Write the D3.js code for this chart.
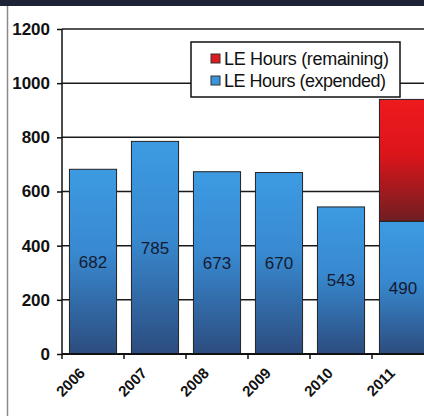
<!DOCTYPE html>
<html>
<head>
<meta charset="utf-8">
<script src="https://cdn.jsdelivr.net/npm/d3@7"></script>
<style>
  html, body { margin: 0; padding: 0; background: #fff; }
  svg { display: block; overflow: hidden; }
</style>
</head>
<body>
<div id="chart"></div>
<script>
// chart values
const years = ['2006', '2007', '2008', '2009', '2010', '2011'];
const expended = [682, 785, 673, 670, 543, 490];
const remaining = [0, 0, 0, 0, 0, 450];
const yTicks = [0, 200, 400, 600, 800, 1000, 1200];
const legendLabels = ['LE Hours (remaining)', 'LE Hours (expended)'];

const width = 424, height = 420;
const margin = {top: 29, left: 62, bottom: 66};
const narrow = 'Liberation Sans Narrow, Liberation Sans, Arial, sans-serif';

const svg = d3.select('#chart').append('svg')
    .attr('width', width)
    .attr('height', height);

const defs = svg.append('defs');

const blueGrad = defs.append('linearGradient')
    .attr('id', 'blue-grad')
    .attr('x1', 0).attr('y1', 0).attr('x2', 0).attr('y2', 1);
blueGrad.append('stop').attr('offset', '0%').attr('stop-color', '#3d9be2');
blueGrad.append('stop').attr('offset', '45%').attr('stop-color', '#3889d0');
blueGrad.append('stop').attr('offset', '100%').attr('stop-color', '#2c4c7e');

const redGrad = defs.append('linearGradient')
    .attr('id', 'red-grad')
    .attr('x1', 0).attr('y1', 0).attr('x2', 0).attr('y2', 1);
redGrad.append('stop').attr('offset', '0%').attr('stop-color', '#ee1a1e');
redGrad.append('stop').attr('offset', '45%').attr('stop-color', '#dc151b');
redGrad.append('stop').attr('offset', '100%').attr('stop-color', '#6e1e22');

// frame bits from the scanned slide
svg.append('rect')
    .attr('x', 0).attr('y', 0)
    .attr('width', width).attr('height', 6)
    .attr('fill', '#1d2236');

svg.append('line')
    .attr('x1', 7.5).attr('x2', 7.5)
    .attr('y1', 6).attr('y2', 416)
    .attr('stroke', '#8a8a8a')
    .attr('stroke-width', 1.5);

const x = d3.scaleBand()
    .domain(years)
    .range([margin.left, margin.left + 62 * years.length])
    .paddingInner(0.24)
    .paddingOuter(0.12);

const y = d3.scaleLinear()
    .domain([0, 1200])
    .range([354, margin.top]);

// gridlines
svg.append('g')
  .selectAll('line')
    .data(yTicks.filter(d => d > 0))
  .enter().append('line')
    .attr('x1', margin.left)
    .attr('x2', width)
    .attr('y1', d => y(d))
    .attr('y2', d => y(d))
    .attr('stroke', '#1a1a1a')
    .attr('stroke-width', 1.5);

// bars
const bars = svg.append('g');

bars.selectAll('rect.expended')
    .data(years)
  .enter().append('rect')
    .attr('class', 'expended')
    .attr('x', d => x(d))
    .attr('width', x.bandwidth())
    .attr('y', (d, i) => y(expended[i]))
    .attr('height', (d, i) => y(0) - y(expended[i]))
    .attr('fill', 'url(#blue-grad)')
    .attr('stroke', '#222')
    .attr('stroke-width', 1);

bars.selectAll('rect.remaining')
    .data(years.filter((d, i) => remaining[i] > 0))
  .enter().append('rect')
    .attr('class', 'remaining')
    .attr('x', d => x(d))
    .attr('width', x.bandwidth())
    .attr('y', d => y(expended[years.indexOf(d)] + remaining[years.indexOf(d)]))
    .attr('height', d => y(expended[years.indexOf(d)]) - y(expended[years.indexOf(d)] + remaining[years.indexOf(d)]))
    .attr('fill', 'url(#red-grad)')
    .attr('stroke', '#222')
    .attr('stroke-width', 1);

// value labels
bars.selectAll('text')
    .data(years)
  .enter().append('text')
    .attr('x', d => x(d) + x.bandwidth() / 2)
    .attr('y', (d, i) => y(expended[i] / 2))
    .attr('dy', '0.35em')
    .attr('text-anchor', 'middle')
    .attr('font-family', narrow)
    .attr('font-size', 17)
    .attr('fill', '#151a30')
    .text((d, i) => expended[i]);

// y axis
const yAxis = svg.append('g')
    .attr('transform', `translate(${margin.left},0)`)
    .call(d3.axisLeft(y).tickValues(yTicks).tickSize(5).tickPadding(7).tickFormat(d3.format('d')));
yAxis.select('.domain').attr('stroke', '#111').attr('stroke-width', 1.5).attr('d', `M0,${y(1200)}V${y(0)}`);
yAxis.selectAll('.tick line').attr('stroke', '#111').attr('stroke-width', 1.5);
yAxis.selectAll('.tick text')
    .attr('font-family', narrow)
    .attr('font-size', 17)
    .attr('font-weight', 'bold')
    .attr('fill', '#111');

// x axis
const xAxis = svg.append('g')
    .attr('transform', `translate(0,${y(0)})`);
xAxis.append('line')
    .attr('x1', margin.left).attr('x2', width)
    .attr('stroke', '#111')
    .attr('stroke-width', 2);
xAxis.selectAll('line.tick')
    .data(years)
  .enter().append('line')
    .attr('class', 'tick')
    .attr('x1', d => x(d) - x.step() * x.paddingInner() / 2)
    .attr('x2', d => x(d) - x.step() * x.paddingInner() / 2)
    .attr('y1', 0).attr('y2', 5)
    .attr('stroke', '#111')
    .attr('stroke-width', 1.5);
xAxis.selectAll('text')
    .data(years)
  .enter().append('text')
    .attr('transform', d => `translate(${x(d) + x.bandwidth() / 2 - 7},${20}) rotate(-45)`)
    .attr('text-anchor', 'end')
    .attr('font-family', narrow)
    .attr('font-size', 15)
    .attr('font-weight', 'bold')
    .attr('fill', '#111')
    .text(d => d);

// legend
const legend = svg.append('g').attr('transform', 'translate(191,42)');
legend.append('rect')
    .attr('width', 209).attr('height', 55)
    .attr('fill', '#fff')
    .attr('stroke', '#111')
    .attr('stroke-width', 1.5);
const legendColors = ['#e01b1f', '#3a95dc'];
legendLabels.forEach((label, i) => {
  const row = legend.append('g').attr('transform', `translate(20,${17 + i * 22})`);
  row.append('rect')
      .attr('x', 0).attr('y', -5)
      .attr('width', 9).attr('height', 9)
      .attr('fill', legendColors[i])
      .attr('stroke', '#333')
      .attr('stroke-width', 1);
  row.append('text')
      .attr('x', 13)
      .attr('dy', '0.35em')
      .attr('font-family', narrow)
      .attr('font-size', 18)
      .attr('fill', '#111')
      .attr('textLength', i === 0 ? 165 : 162)
      .text(label);
});
</script>
</body>
</html>
